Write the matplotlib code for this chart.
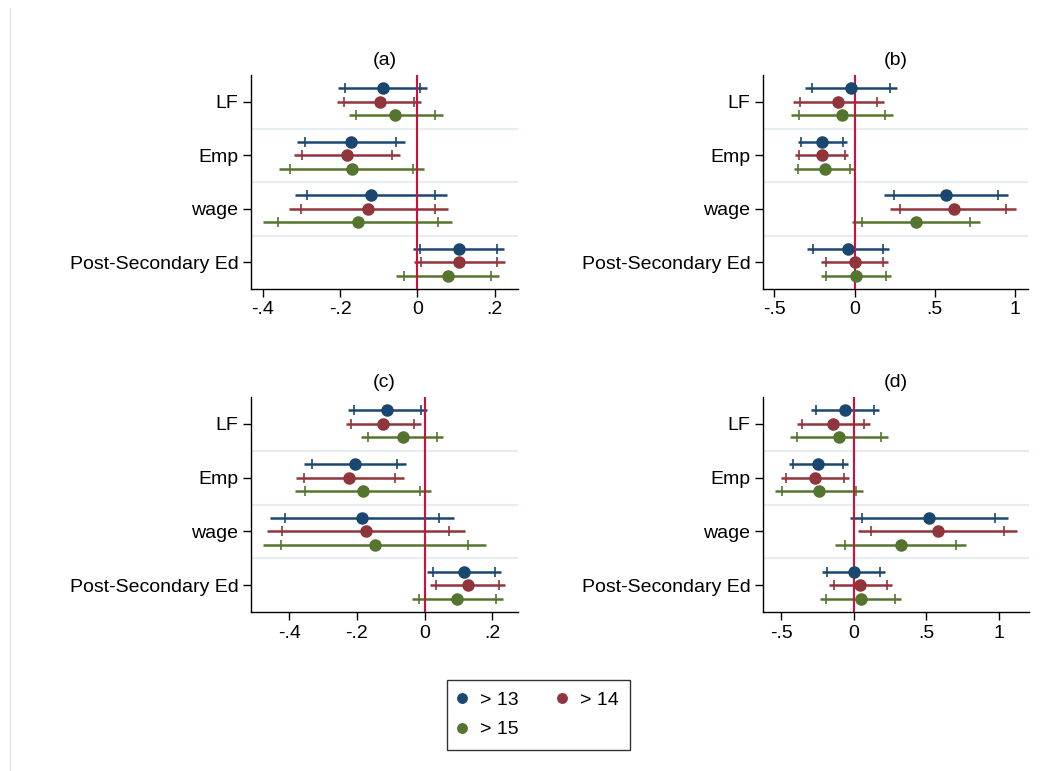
import matplotlib
matplotlib.use("Agg")
import matplotlib.pyplot as plt
from matplotlib.lines import Line2D
import numpy as np

plt.rcParams['font.family'] = ['Liberation Sans', 'DejaVu Sans']

categories = ['LF', 'Emp', 'wage', 'Post-Secondary Ed']
series_labels = ['> 13', '> 14', '> 15']
series_colors = ['#1a476f', '#90353b', '#55752f']

# Panel (a)
a_coef = [[-0.090, -0.172, -0.120, 0.107], [-0.097, -0.183, -0.127, 0.108], [-0.058, -0.169, -0.153, 0.078]]
a_lo = [[-0.205, -0.312, -0.317, -0.011], [-0.207, -0.318, -0.333, -0.009], [-0.177, -0.358, -0.398, -0.055]]
a_hi = [[0.025, -0.033, 0.076, 0.225], [0.010, -0.046, 0.079, 0.226], [0.065, 0.018, 0.090, 0.212]]
a_tlo = [[-0.186, -0.291, -0.286, 0.007], [-0.190, -0.298, -0.300, 0.009], [-0.159, -0.329, -0.359, -0.034]]
a_thi = [[0.007, -0.055, 0.045, 0.207], [-0.008, -0.066, 0.046, 0.207], [0.045, -0.011, 0.052, 0.190]]

# Panel (b)
b_coef = [[-0.021, -0.204, 0.572, -0.040], [-0.102, -0.204, 0.617, 0.0], [-0.079, -0.187, 0.383, 0.010]]
b_lo = [[-0.310, -0.353, 0.183, -0.293], [-0.385, -0.368, 0.218, -0.210], [-0.397, -0.380, -0.015, -0.206]]
b_hi = [[0.266, -0.050, 0.958, 0.216], [0.183, -0.040, 1.008, 0.210], [0.239, 0.0, 0.784, 0.229]]
b_tlo = [[-0.264, -0.335, 0.243, -0.260], [-0.339, -0.343, 0.285, -0.177], [-0.347, -0.351, 0.046, -0.177]]
b_thi = [[0.222, -0.075, 0.896, 0.179], [0.139, -0.062, 0.946, 0.179], [0.189, -0.029, 0.721, 0.193]]

# Panel (c)
c_coef = [[-0.111, -0.207, -0.186, 0.117], [-0.123, -0.222, -0.174, 0.127], [-0.065, -0.181, -0.148, 0.097]]
c_lo = [[-0.227, -0.357, -0.458, 0.006], [-0.233, -0.380, -0.467, 0.017], [-0.188, -0.383, -0.477, -0.037]]
c_hi = [[0.006, -0.056, 0.086, 0.226], [-0.012, -0.061, 0.119, 0.239], [0.055, 0.019, 0.180, 0.231]]
c_tlo = [[-0.208, -0.332, -0.414, 0.024], [-0.217, -0.355, -0.420, 0.033], [-0.168, -0.352, -0.423, -0.017]]
c_thi = [[-0.012, -0.081, 0.042, 0.209], [-0.030, -0.087, 0.073, 0.221], [0.037, -0.014, 0.127, 0.210]]

# Panel (d)
d_coef = [[-0.060, -0.243, 0.521, 0.0], [-0.142, -0.266, 0.580, 0.046], [-0.101, -0.239, 0.323, 0.048]]
d_lo = [[-0.296, -0.447, -0.025, -0.218], [-0.392, -0.498, 0.030, -0.170], [-0.438, -0.539, -0.131, -0.232]]
d_hi = [[0.174, -0.039, 1.064, 0.218], [0.112, -0.030, 1.126, 0.266], [0.239, 0.062, 0.773, 0.328]]
d_tlo = [[-0.261, -0.420, 0.060, -0.183], [-0.355, -0.466, 0.117, -0.138], [-0.390, -0.493, -0.057, -0.188]]
d_thi = [[0.140, -0.071, 0.977, 0.181], [0.073, -0.069, 1.039, 0.232], [0.188, 0.018, 0.702, 0.282]]

a_xticks = [-0.4, -0.2, 0, 0.2]
a_xticklabels = ['-.4', '-.2', '0', '.2']
b_xticks = [-0.5, 0, 0.5, 1]
b_xticklabels = ['-.5', '0', '.5', '1']

W, H = 1054, 771
fig = plt.figure(figsize=(W / 100, H / 100), dpi=100)
fig.patch.set_facecolor('white')

def rect(l, t, r, b):
    return [l / W, 1 - b / H, (r - l) / W, (b - t) / H]

panels = [
    ('(a)', rect(251, 75, 518, 289), (-0.43, 0.26), a_xticks, a_xticklabels, a_coef, a_lo, a_hi, a_tlo, a_thi),
    ('(b)', rect(763, 75, 1028, 289), (-0.57, 1.08), b_xticks, b_xticklabels, b_coef, b_lo, b_hi, b_tlo, b_thi),
    ('(c)', rect(251, 397, 518, 612), (-0.513, 0.276), a_xticks, a_xticklabels, c_coef, c_lo, c_hi, c_tlo, c_thi),
    ('(d)', rect(763, 397, 1029, 612), (-0.624, 1.208), b_xticks, b_xticklabels, d_coef, d_lo, d_hi, d_tlo, d_thi),
]

FS = 14
handles = []
for title, r, xlim, xt, xtl, coef, lo, hi, tlo, thi in panels:
    ax = fig.add_axes(r)
    ypos = np.arange(1, len(categories) + 1)
    for g in range(1, len(categories)):
        ax.axhline(g + 0.5, color='#e6edf0', lw=1.6, zorder=1)
    for i in range(len(series_labels)):
        y = ypos + (i - 1) * 0.25
        col = series_colors[i]
        ax.hlines(y, lo[i], hi[i], color=col, lw=1.8, zorder=2)
        ax.plot(tlo[i], y, ls='none', marker='|', ms=7, mew=1.2, color=col, zorder=2)
        ax.plot(thi[i], y, ls='none', marker='|', ms=7, mew=1.2, color=col, zorder=2)
        h, = ax.plot(coef[i], y, ls='none', marker='o', ms=8, color=col, zorder=4,
                     label=series_labels[i])
        if len(handles) < 3:
            handles.append(h)
    ax.axvline(0, color='#d0103a', lw=1.5, zorder=3)
    ax.set_xlim(*xlim)
    ax.set_ylim(len(categories) + 0.5, 0.5)
    ax.set_yticks(ypos)
    ax.set_yticklabels(categories, fontsize=FS)
    ax.set_xticks(xt)
    ax.set_xticklabels(xtl, fontsize=FS)
    ax.tick_params(axis='both', direction='out', length=6, width=1, color='black', pad=3)
    for s in ['top', 'right']:
        ax.spines[s].set_visible(False)
    for s in ['left', 'bottom']:
        ax.spines[s].set_linewidth(1)
    ax.set_facecolor('white')
    ax.set_title(title, fontsize=FS, pad=7)

order = [0, 2, 1]
leg = fig.legend([handles[k] for k in order], [series_labels[k] for k in order],
                 loc='center', bbox_to_anchor=(538.5 / W, 1 - 715 / H), ncol=2,
                 frameon=True, fancybox=False, edgecolor='black', fontsize=FS,
                 handletextpad=0.7, columnspacing=2.05, borderpad=0.6, labelspacing=0.6,
                 handlelength=0.4, markerscale=0.85)
leg.get_frame().set_linewidth(1)

fig.add_artist(Line2D([9.5 / W, 9.5 / W], [0, 1 - 8 / H], color='#e4e4e4', lw=1))

fig.savefig('out.png', dpi=100, facecolor='white')
